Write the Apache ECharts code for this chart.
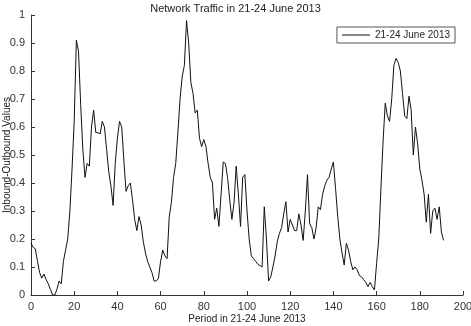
<!DOCTYPE html>
<html>
<head>
<meta charset="utf-8">
<script src="https://cdn.jsdelivr.net/npm/echarts@6/dist/echarts.min.js"></script>
<style>
  html, body { margin: 0; padding: 0; background: #fff; }
  #chart { width: 471px; height: 326px; }
</style>
</head>
<body>
<div id="chart"></div>
<script>
// period index 0..191 (4 days x 48 samples)
var periods = [];
for (var i = 0; i < 192; i++) { periods.push(i); }

var traffic = [
  0.185, 0.17, 0.165, 0.12, 0.08, 0.06, 0.075, 0.055, 0.04, 0.02,
  0.0, 0.0, 0.02, 0.05, 0.04, 0.12, 0.16, 0.2, 0.3, 0.45,
  0.62, 0.91, 0.87, 0.68, 0.52, 0.42, 0.47, 0.46, 0.6, 0.66,
  0.58, 0.58, 0.575, 0.62, 0.6, 0.52, 0.44, 0.39, 0.32, 0.47,
  0.56, 0.62, 0.6, 0.48, 0.37, 0.39, 0.4, 0.34, 0.27, 0.23,
  0.28, 0.25, 0.19, 0.15, 0.12, 0.1, 0.08, 0.05, 0.05, 0.06,
  0.12, 0.16, 0.14, 0.13, 0.28, 0.33, 0.42, 0.47, 0.58, 0.7,
  0.78, 0.82, 0.98, 0.9, 0.76, 0.72, 0.65, 0.66, 0.56, 0.53,
  0.555, 0.53, 0.47, 0.42, 0.4, 0.27, 0.31, 0.245, 0.36, 0.475,
  0.47, 0.42, 0.34, 0.27, 0.33, 0.46, 0.36, 0.245, 0.42, 0.43,
  0.3, 0.2, 0.14, 0.13, 0.12, 0.11, 0.105, 0.1, 0.315, 0.2,
  0.05, 0.065, 0.1, 0.14, 0.19, 0.22, 0.24, 0.29, 0.333, 0.225,
  0.27, 0.25, 0.23, 0.23, 0.29, 0.25, 0.195, 0.3, 0.43, 0.255,
  0.24, 0.2, 0.24, 0.315, 0.305, 0.36, 0.39, 0.41, 0.42, 0.45,
  0.475, 0.38, 0.28, 0.2, 0.15, 0.107, 0.185, 0.16, 0.12, 0.09,
  0.1, 0.09, 0.07, 0.065, 0.055, 0.045, 0.03, 0.045, 0.03, 0.018,
  0.113, 0.2, 0.38, 0.55, 0.685, 0.64, 0.62, 0.7, 0.82, 0.845,
  0.83, 0.8, 0.72, 0.64, 0.63, 0.71, 0.66, 0.5, 0.6, 0.54,
  0.45, 0.41, 0.36, 0.26, 0.36, 0.22, 0.3, 0.31, 0.27, 0.315,
  0.225, 0.195
];

var seriesName = '21-24 June 2013';

var chart = echarts.init(document.getElementById('chart'));

var points = periods.map(function (p, i) { return [p, traffic[i]]; });

var option = {
    animation: false,
    backgroundColor: '#fff',
    textStyle: { fontFamily: 'Liberation Sans, Arial, sans-serif' },
    title: {
        text: 'Network Traffic in 21-24 June 2013',
        left: 'center',
        top: -2,
        textStyle: { fontSize: 11, fontWeight: 'normal', color: '#222' }
    },
    legend: {
        data: [{ name: seriesName, icon: 'rect' }],
        right: 16,
        top: 27,
        borderColor: '#555',
        borderWidth: 1,
        padding: [3, 5, 3, 5],
        itemWidth: 28,
        itemHeight: 1,
        textStyle: { fontSize: 10, color: '#222' }
    },
    grid: { left: 31, right: 8, top: 15, bottom: 31, outerBoundsMode: 'none' },
    xAxis: {
        type: 'value',
        min: 0,
        max: 200,
        interval: 20,
        name: 'Period in 21-24 June 2013',
        nameLocation: 'middle',
        nameGap: 19,
        nameMoveOverlap: false,
        nameTextStyle: { fontSize: 10, color: '#222' },
        axisLine: { lineStyle: { color: '#333' } },
        axisTick: { inside: true, length: 4, lineStyle: { color: '#333' } },
        axisLabel: { fontSize: 11, color: '#333', margin: 6 },
        splitLine: { show: false }
    },
    yAxis: {
        type: 'value',
        min: 0,
        max: 1,
        interval: 0.1,
        name: 'Inbound-Outbound Values',
        nameLocation: 'middle',
        nameGap: 19,
        nameMoveOverlap: false,
        nameTextStyle: { fontSize: 10, color: '#222' },
        axisLine: { show: true, lineStyle: { color: '#333' } },
        axisTick: { show: true, inside: true, length: 4, lineStyle: { color: '#333' } },
        axisLabel: {
            fontSize: 11, color: '#333', margin: 6,
            formatter: function (v) { return Math.round(v * 10) / 10 + ''; }
        },
        splitLine: { show: false }
    },
    series: [
        {
            name: seriesName,
            type: 'line',
            data: points,
            symbol: 'none',
            lineStyle: { color: '#111', width: 1 },
            itemStyle: { color: '#111' }
        }
    ]
};

chart.setOption(option);
</script>
</body>
</html>
